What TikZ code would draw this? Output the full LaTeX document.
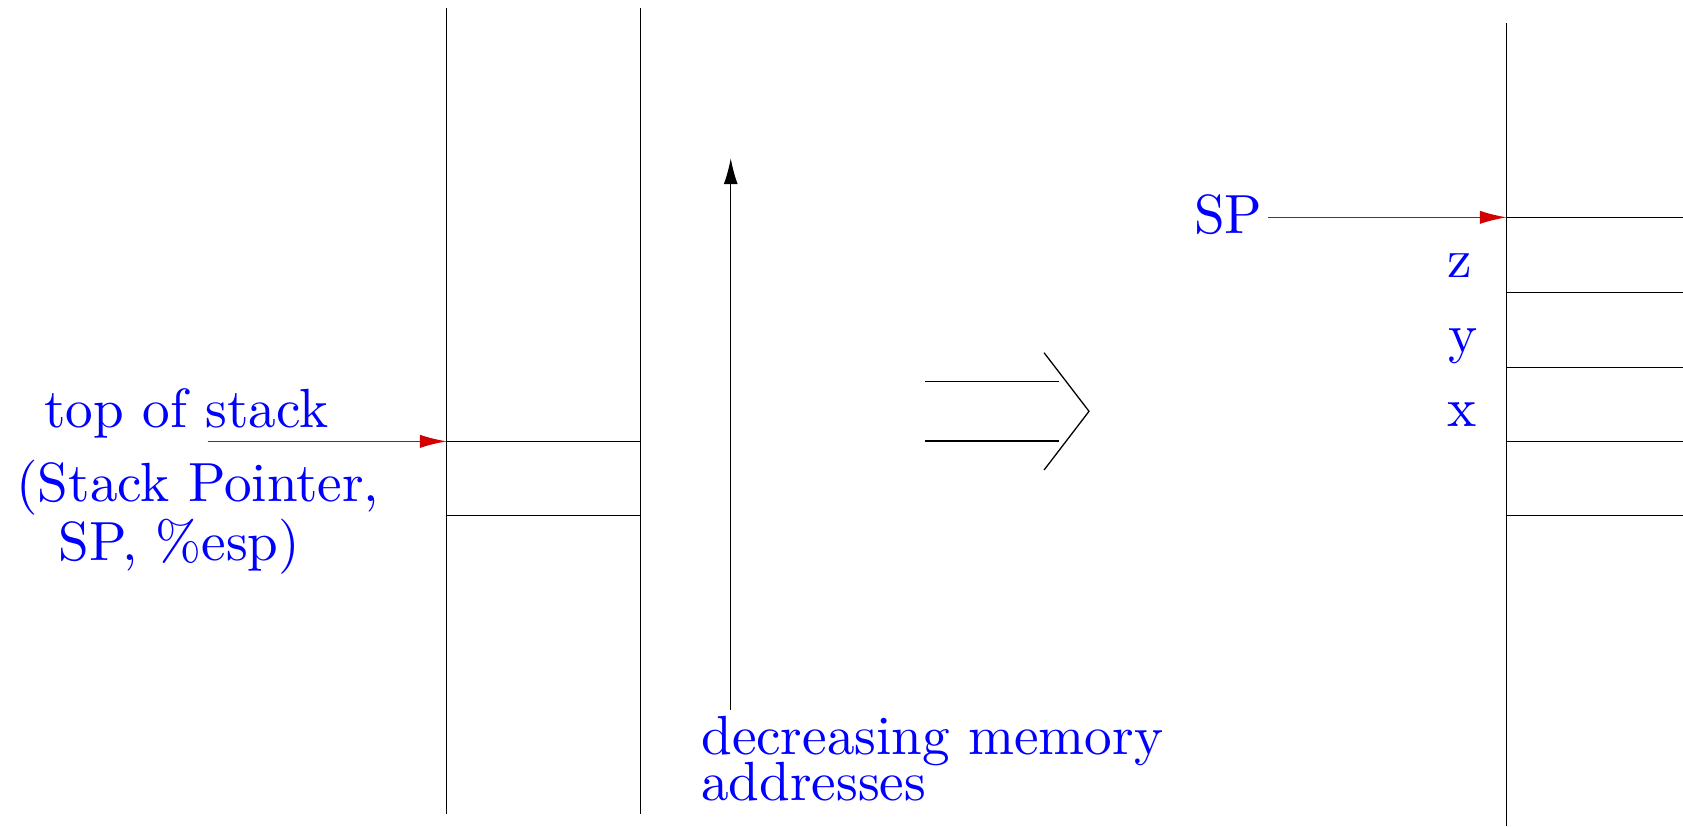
\documentclass[tikz,border=0pt]{standalone}
\usepackage{fontspec}
\setmainfont{lmroman10-regular}[Extension=.otf]
\usetikzlibrary{arrows.meta}
\definecolor{lblue}{RGB}{0,0,255}
\definecolor{ared}{RGB}{210,0,0}
\begin{document}
\begin{tikzpicture}[x=0.5pt,y=-0.5pt,
  wall/.style={line width=0.6pt},
  lbl/.style={text=lblue,font=\fontsize{25.7}{21}\selectfont,inner sep=0pt,anchor=base west},
  sparrow/.style={draw=ared,line width=0.6pt,-{Latex[length=12.5pt,width=6.2pt]},fill=ared},
  uparrow/.style={line width=0.6pt,-{Latex[length=12pt,width=6.5pt]}}]
\useasboundingbox (0,0) rectangle (1568,769.6);
% left stack
\coordinate (L1t) at (416.2,7.8);
\coordinate (L1b) at (416.2,758.7);
\coordinate (L2t) at (597,7.8);
\coordinate (L2b) at (597,758.7);
\draw[wall] (L1t) -- (L1b);
\draw[wall] (L2t) -- (L2b);
\coordinate (La1) at (416.2,411.2);
\coordinate (Lb1) at (597,411.2);
\coordinate (La2) at (416.2,480.5);
\coordinate (Lb2) at (597,480.5);
\draw[wall] (La1) -- (Lb1);
\draw[wall] (La2) -- (Lb2);
% left labels
\node[lbl] (tos) at (41,398) {top of stack};
\node[lbl] (spn) at (15,467.4) {(Stack Pointer,};
\node[lbl] (esp) at (54,521.8) {SP, \%esp)};
\coordinate (tosS) at (193.5,411.2);
\draw[sparrow] (tosS) -- (La1);
% up arrow
\coordinate (upB) at (680.8,661.5);
\coordinate (upT) at (680.8,147.5);
\draw[uparrow] (upB) -- (upT);
\node[lbl] (dec) at (653,703.4) {decreasing memory};
\node[lbl] (addr) at (653,745.4) {addresses};
% double arrow
\coordinate (d1a) at (861.8,355.6);
\coordinate (d1b) at (986.7,355.6);
\coordinate (d2a) at (861.8,410.9);
\coordinate (d2b) at (986.7,410.9);
\coordinate (cT) at (972.7,328.6);
\coordinate (cM) at (1014.6,383.2);
\coordinate (cB) at (972.7,437.9);
\draw[wall] (d1a) -- (d1b);
\draw[wall] (d2a) -- (d2b);
\draw[wall] (cT) -- (cM) -- (cB);
% right stack
\coordinate (Rt) at (1403.7,21.7);
\coordinate (Rb) at (1403.7,769.6);
\draw[wall] (Rt) -- (Rb);
\foreach \yy [count=\i] in {202.5,272.4,342.2,411.5,480.5}{
  \coordinate (Ra\i) at (1403.7,\yy);
  \coordinate (Rb\i) at (1568,\yy);
  \draw[wall] (Ra\i) -- (Rb\i);
}
\node[lbl] (sp) at (1112,217.4) {SP};
\coordinate (spS) at (1181.5,202.5);
\draw[sparrow] (spS) -- (Ra1);
\node[lbl] (vz) at (1348.5,258.7) {z};
\node[lbl] (vy) at (1349,328.7) {y};
\node[lbl] (vx) at (1348.5,397.5) {x};
\end{tikzpicture}
\end{document}
